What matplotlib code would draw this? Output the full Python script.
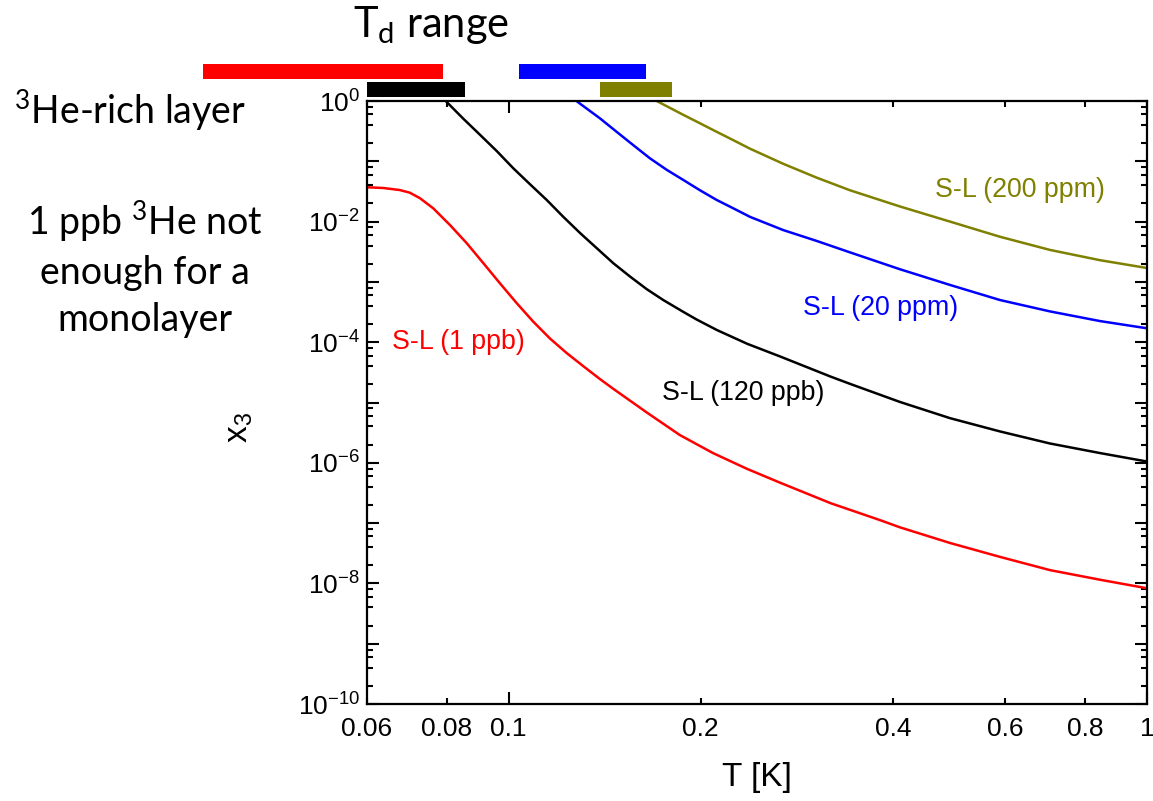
import matplotlib
matplotlib.use("Agg")
import matplotlib.pyplot as plt
from matplotlib.patches import Rectangle
from matplotlib.ticker import NullFormatter

# ---------------- data ----------------
T_1ppb = [0.0600, 0.0636, 0.0675, 0.0700, 0.0726, 0.0762, 0.0810, 0.0860, 0.0913, 0.0969,
          0.1029, 0.1093, 0.1161, 0.1233, 0.1310, 0.1390, 0.1457, 0.1647, 0.1855, 0.2090,
          0.2365, 0.2662, 0.3194, 0.3818, 0.4103, 0.4914, 0.5886, 0.7048, 0.8442, 1.0]
x3_1ppb = [3.71e-2, 3.61e-2, 3.34e-2, 3.02e-2, 2.45e-2, 1.66e-2, 8.7e-3, 4.37e-3, 2.04e-3, 9.5e-4,
           4.47e-4, 2.19e-4, 1.15e-4, 6.6e-5, 3.98e-5, 2.45e-5, 1.70e-5, 6.8e-6, 2.88e-6, 1.45e-6,
           7.9e-7, 4.68e-7, 2.14e-7, 1.12e-7, 8.5e-8, 4.68e-8, 2.75e-8, 1.66e-8, 1.15e-8, 8.3e-9]

T_120ppb = [0.0797, 0.0848, 0.0902, 0.0958, 0.1017, 0.1080, 0.1147, 0.1218, 0.1294, 0.1374,
            0.1459, 0.1549, 0.1645, 0.1747, 0.1878, 0.1970, 0.2120, 0.2365, 0.2662, 0.3194,
            0.3425, 0.4103, 0.4914, 0.5886, 0.7048, 0.8442, 1.0]
x3_120ppb = [1.0, 0.516, 0.275, 0.148, 7.66e-2, 4.17e-2, 2.29e-2, 1.20e-2, 6.46e-3, 3.63e-3,
             2.04e-3, 1.23e-3, 7.6e-4, 5.0e-4, 3.18e-4, 2.38e-4, 1.59e-4, 9.4e-5, 5.8e-5, 2.69e-5,
             2.04e-5, 1.02e-5, 5.5e-6, 3.31e-6, 2.09e-6, 1.45e-6, 1.05e-6]

T_20ppm = [0.1277, 0.1390, 0.1476, 0.1567, 0.1665, 0.1768, 0.1878, 0.1994, 0.2117, 0.2249,
           0.2388, 0.2692, 0.3036, 0.3425, 0.4103, 0.4914, 0.5886, 0.7048, 0.8442, 1.0]
x3_20ppm = [1.0, 0.516, 0.309, 0.186, 0.112, 7.24e-2, 4.90e-2, 3.31e-2, 2.29e-2, 1.66e-2,
            1.20e-2, 7.24e-3, 4.79e-3, 3.09e-3, 1.62e-3, 8.9e-4, 5.0e-4, 3.24e-4, 2.24e-4, 1.70e-4]

T_200ppm = [0.1706, 0.1878, 0.1994, 0.2117, 0.2249, 0.2388, 0.2692, 0.3036, 0.3425, 0.4103,
            0.4914, 0.5886, 0.7048, 0.8442, 1.0]
x3_200ppm = [1.0, 0.589, 0.427, 0.309, 0.224, 0.162, 9.1e-2, 5.37e-2, 3.31e-2, 1.78e-2,
             1.0e-2, 5.6e-3, 3.39e-3, 2.29e-3, 1.70e-3]

series_labels = ["S-L (1 ppb)", "S-L (120 ppb)", "S-L (20 ppm)", "S-L (200 ppm)"]
series_colors = ["#ff0000", "#000000", "#0000ff", "#808000"]

# T_d ranges (K): (start, end) for each concentration
td_ranges = [(0.0332, 0.0789), (0.060, 0.0854), (0.1038, 0.1641), (0.139, 0.180)]
td_rows = [0, 1, 0, 1]   # 0 = upper row, 1 = lower row

xtick_major = [0.1, 1.0]
xtick_major_labels = ["0.1", "1"]
xtick_minor = [0.06, 0.08, 0.2, 0.4, 0.6, 0.8]
xtick_minor_labels = ["0.06", "0.08", "0.2", "0.4", "0.6", "0.8"]
y_exponents = list(range(-10, 1))

# ---------------- figure ----------------
W, H = 1153, 801
fig = plt.figure(figsize=(W / 100, H / 100), dpi=100)
L, R, TOP, BOT = 367, 1147, 101, 704
ax = fig.add_axes([L / W, 1 - BOT / H, (R - L) / W, (BOT - TOP) / H])
ax.set_xscale("log")
ax.set_yscale("log")
ax.set_xlim(0.06, 1.0)
ax.set_ylim(1e-10, 1.0)

tick_font = "Liberation Sans"
curves = [(T_1ppb, x3_1ppb), (T_120ppb, x3_120ppb), (T_20ppm, x3_20ppm), (T_200ppm, x3_200ppm)]
for (t, v), c in zip(curves, series_colors):
    ax.plot(t, v, color=c, lw=1.8, solid_joinstyle="round", solid_capstyle="butt")

# x ticks
ax.set_xticks(xtick_major, labels=xtick_major_labels)
ax.set_xticks(xtick_minor, labels=xtick_minor_labels, minor=True)
# y ticks
yt = [10.0 ** e for e in y_exponents]
ylabels = [r"$\mathregular{10^{%d}}$" % e if e % 2 == 0 else "" for e in y_exponents]
ax.set_yticks(yt, labels=ylabels)
yminor = [s * 10.0 ** e for e in y_exponents[:-1] for s in (2, 4, 6, 8)]
ax.set_yticks(yminor, minor=True)
ax.yaxis.set_minor_formatter(NullFormatter())

for lab in ax.get_xticklabels(which="both") + ax.get_yticklabels():
    lab.set_fontfamily(tick_font)
    lab.set_fontsize(19)

ax.tick_params(which="both", direction="in", top=True, right=True, width=1.5, colors="black")
ax.tick_params(which="major", length=8.6)
ax.tick_params(which="minor", length=4.3)
ax.tick_params(axis="x", which="both", pad=9.5)
ax.tick_params(axis="y", which="both", pad=5)
for s in ax.spines.values():
    s.set_linewidth(1.6)

ax.set_xlabel("T [K]", fontfamily=tick_font, fontsize=24)
ax.xaxis.set_label_coords(0.50, -0.097)
ax.set_ylabel(r"$\mathregular{x_3}$", fontfamily=tick_font, fontsize=24)
ax.yaxis.set_label_coords(-0.143, 0.458)

# curve labels (axes-fraction positions)
label_pos = [(0.032, 0.600), (0.378, 0.516), (0.559, 0.657), (0.728, 0.852)]
for txt, c, (px, py) in zip(series_labels, series_colors, label_pos):
    ax.text(px, py, txt, color=c, fontfamily=tick_font, fontsize=19.3,
            ha="left", va="center", transform=ax.transAxes)

# T_d range bars above the axes
row_y = [1.0365, 1.0066]
bar_h = 0.0249
for (a, b), r, c in zip(td_ranges, td_rows, series_colors):
    ax.add_patch(Rectangle((a, row_y[r]), b - a, bar_h, transform=ax.get_xaxis_transform(),
                           facecolor=c, edgecolor="none", clip_on=False))

side_font = "Lato"
fig.text(431 / W, 1 - 25 / H, r"$\mathregular{T_d}$ range", fontfamily=side_font,
         fontsize=30, ha="center", va="center")
fig.text(130 / W, 1 - 110 / H, r"$\mathregular{^3}$He-rich layer", fontfamily=side_font,
         fontsize=27, ha="center", va="center")
fig.text(145 / W, 1 - 268 / H, "1 ppb $\\mathregular{^3}$He not\nenough for a\nmonolayer",
         fontfamily=side_font, fontsize=27, ha="center", va="center", linespacing=1.38)

fig.savefig("out.png", dpi=100)
